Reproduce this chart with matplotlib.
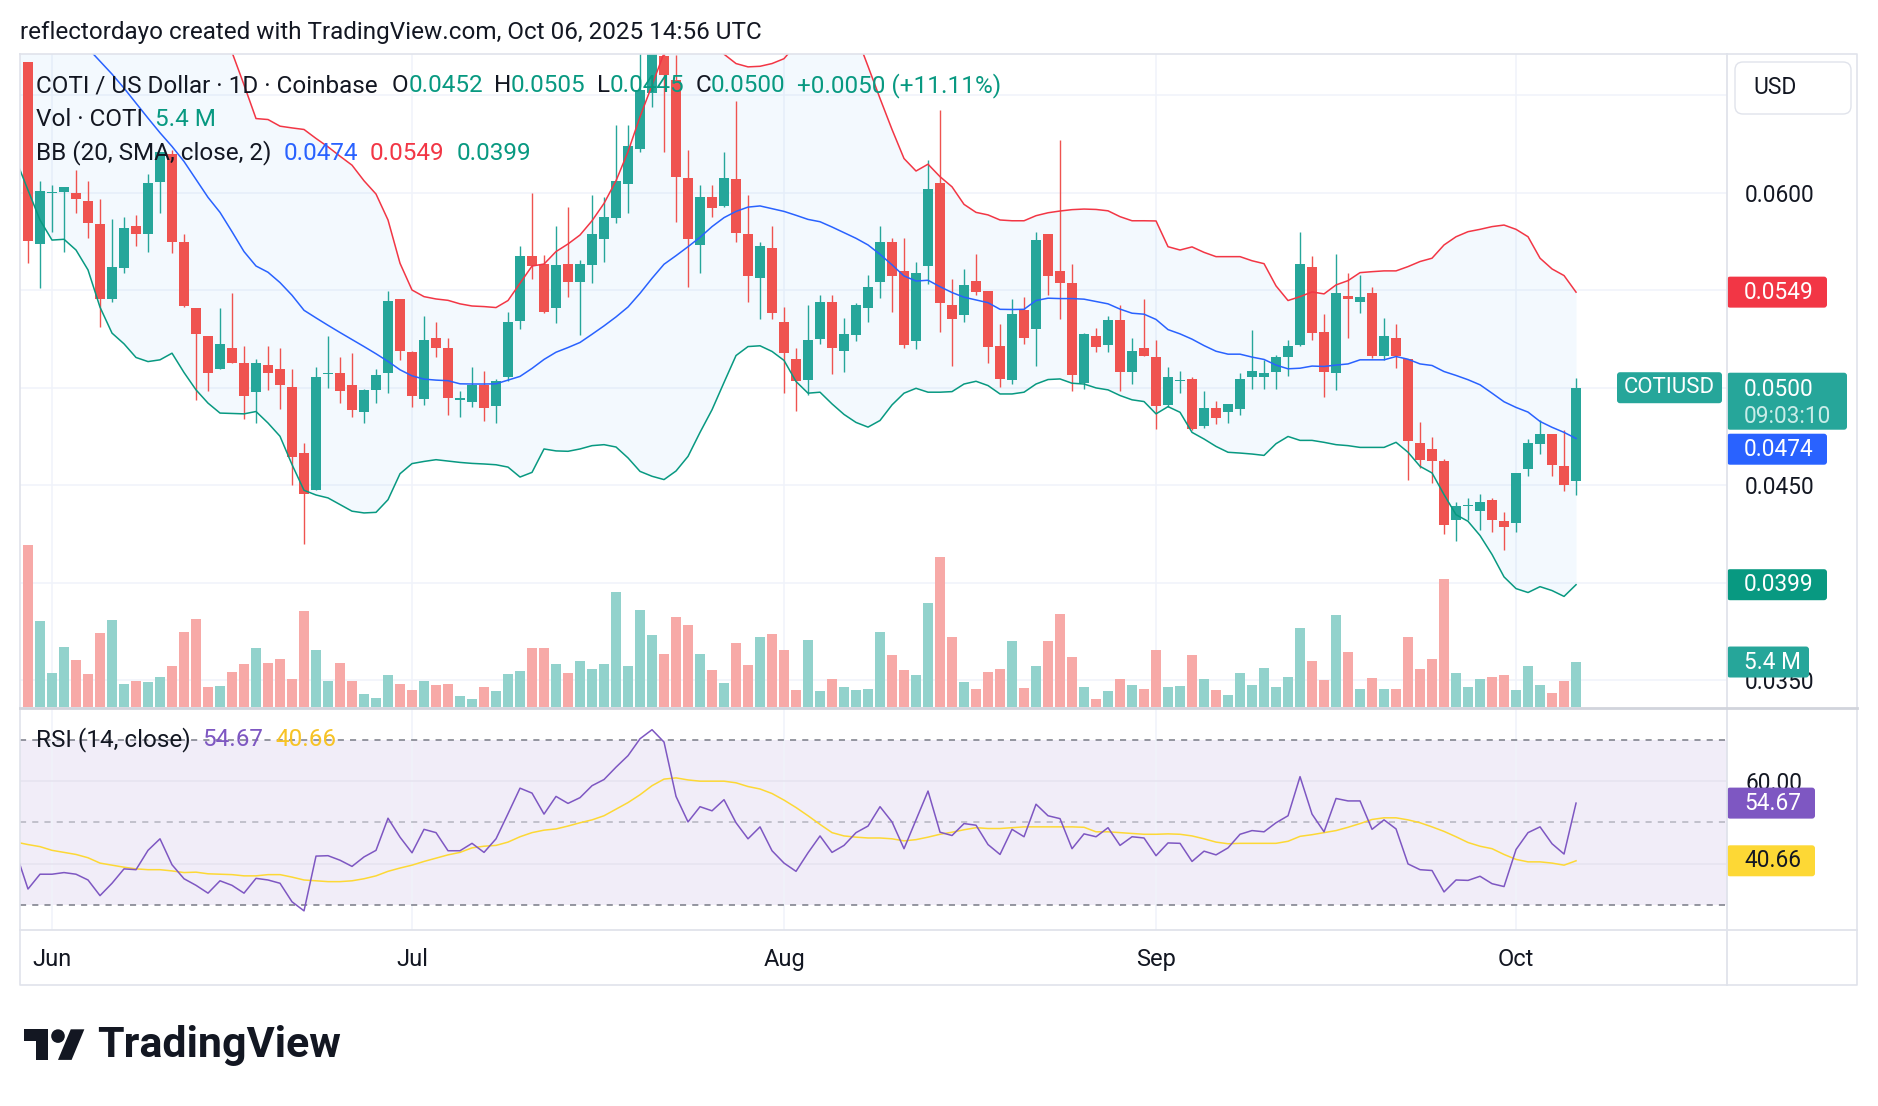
import numpy as np
import matplotlib.pyplot as plt
import pandas as pd
from matplotlib.patches import FancyBboxPatch, Polygon, Circle
from matplotlib.transforms import blended_transform_factory

plt.rcParams['font.family'] = ['Roboto', 'DejaVu Sans']

# daily candles, 2025-05-30 .. 2025-10-06 (COTI / USD, Coinbase)
start_date = '2025-05-30'
open_ = [0.06670, 0.05735, 0.05996, 0.06005, 0.05996, 0.05957, 0.05841, 0.05454, 0.05616, 0.05829,
         0.05786, 0.06056, 0.06196, 0.05745, 0.05409, 0.05266, 0.05095, 0.05204, 0.05126, 0.04976,
         0.05117, 0.05095, 0.05006, 0.04665, 0.04474, 0.05070, 0.05075, 0.05015, 0.04873, 0.04989,
         0.05075, 0.05455, 0.05181, 0.04943, 0.05254, 0.05203, 0.04938, 0.04926, 0.05015, 0.04904,
         0.05053, 0.05344, 0.05675, 0.05633, 0.05411, 0.05634, 0.05544, 0.05629, 0.05762, 0.05872,
         0.06044, 0.06223, 0.06512, 0.06700, 0.06576, 0.06076, 0.05732, 0.05979, 0.05931, 0.06070,
         0.05788, 0.05565, 0.05718, 0.05336, 0.05148, 0.05041, 0.05250, 0.05437, 0.05186, 0.05271,
         0.05411, 0.05544, 0.05745, 0.05599, 0.05242, 0.05626, 0.06048, 0.05425, 0.05373, 0.05547,
         0.05496, 0.05215, 0.05041, 0.05399, 0.05302, 0.05788, 0.05599, 0.05535, 0.05024, 0.05266,
         0.05220, 0.05348, 0.05083, 0.05203, 0.05157, 0.04913, 0.05035, 0.05044, 0.04802, 0.04896,
         0.04873, 0.04892, 0.05053, 0.05053, 0.05083, 0.05157, 0.05220, 0.05617, 0.05285, 0.05075,
         0.05472, 0.05442, 0.05484, 0.05165, 0.05254, 0.05146, 0.04716, 0.04687, 0.04626, 0.04324,
         0.04394, 0.04370, 0.04426, 0.04319, 0.04307, 0.04583, 0.04713, 0.04764, 0.04597, 0.04520]
high_ = [0.06670, 0.06059, 0.06039, 0.06029, 0.06116, 0.06059, 0.05967, 0.05865, 0.05875, 0.05885,
         0.06095, 0.06208, 0.06218, 0.05788, 0.05409, 0.05266, 0.05411, 0.05484, 0.05216, 0.05146,
         0.05216, 0.05206, 0.05097, 0.04716, 0.05105, 0.05266, 0.05157, 0.05177, 0.04993, 0.05095,
         0.05498, 0.05455, 0.05186, 0.05368, 0.05336, 0.05254, 0.04984, 0.05105, 0.05087, 0.05046,
         0.05387, 0.05727, 0.05996, 0.05681, 0.05829, 0.05928, 0.05655, 0.05988, 0.05979, 0.06346,
         0.06346, 0.06800, 0.06950, 0.06900, 0.06705, 0.06218, 0.06039, 0.06039, 0.06210, 0.06469,
         0.05988, 0.05745, 0.05829, 0.05413, 0.05206, 0.05425, 0.05476, 0.05476, 0.05360, 0.05433,
         0.05578, 0.05829, 0.05766, 0.05766, 0.05646, 0.06167, 0.06426, 0.05556, 0.05609, 0.05686,
         0.05496, 0.05327, 0.05455, 0.05464, 0.05797, 0.05788, 0.06269, 0.05633, 0.05283, 0.05305,
         0.05368, 0.05425, 0.05257, 0.05455, 0.05245, 0.05105, 0.05087, 0.05054, 0.04984, 0.04930,
         0.04918, 0.05078, 0.05297, 0.05140, 0.05169, 0.05245, 0.05797, 0.05675, 0.05379, 0.05686,
         0.05587, 0.05578, 0.05515, 0.05360, 0.05327, 0.05146, 0.04824, 0.04747, 0.04634, 0.04414,
         0.04435, 0.04455, 0.04435, 0.04363, 0.04563, 0.04739, 0.04836, 0.04764, 0.04785, 0.05050]
low_ = [0.05638, 0.05510, 0.05800, 0.05698, 0.05897, 0.05769, 0.05310, 0.05437, 0.05590, 0.05728,
        0.05698, 0.05897, 0.05689, 0.05416, 0.04938, 0.04981, 0.05095, 0.05126, 0.04839, 0.04819,
        0.04989, 0.04890, 0.04503, 0.04199, 0.04474, 0.04998, 0.04921, 0.04849, 0.04819, 0.04921,
        0.04972, 0.05140, 0.04901, 0.04909, 0.05160, 0.04858, 0.04848, 0.04899, 0.04831, 0.04819,
        0.05035, 0.05300, 0.05559, 0.05382, 0.05331, 0.05467, 0.05268, 0.05539, 0.05646, 0.05843,
        0.05897, 0.06210, 0.06440, 0.06210, 0.05852, 0.05518, 0.05590, 0.05877, 0.05928, 0.05749,
        0.05438, 0.05351, 0.05351, 0.04972, 0.04879, 0.04964, 0.05225, 0.05071, 0.05080, 0.05237,
        0.05339, 0.05459, 0.05390, 0.05203, 0.05199, 0.05530, 0.05288, 0.05109, 0.05339, 0.05476,
        0.05129, 0.05006, 0.05018, 0.05225, 0.05109, 0.05476, 0.05351, 0.04981, 0.04993, 0.05181,
        0.05181, 0.04984, 0.05018, 0.05165, 0.04788, 0.04899, 0.04972, 0.04785, 0.04796, 0.04815,
        0.04819, 0.04858, 0.04995, 0.04995, 0.04995, 0.05058, 0.05215, 0.05245, 0.04950, 0.04986,
        0.05257, 0.05382, 0.05152, 0.05143, 0.05100, 0.04529, 0.04588, 0.04512, 0.04250, 0.04216,
        0.04320, 0.04269, 0.04261, 0.04167, 0.04261, 0.04546, 0.04660, 0.04546, 0.04469, 0.04450]
close_ = [0.05754, 0.06008, 0.06003, 0.06029, 0.05966, 0.05846, 0.05454, 0.05619, 0.05819, 0.05786,
          0.06049, 0.06208, 0.05745, 0.05419, 0.05274, 0.05075, 0.05223, 0.05126, 0.04955, 0.05126,
          0.05075, 0.05013, 0.04645, 0.04455, 0.05054, 0.05073, 0.04981, 0.04884, 0.04986, 0.05066,
          0.05447, 0.05186, 0.04955, 0.05245, 0.05203, 0.04947, 0.04945, 0.05015, 0.04894, 0.05035,
          0.05336, 0.05675, 0.05626, 0.05387, 0.05629, 0.05544, 0.05634, 0.05788, 0.05873, 0.06059,
          0.06239, 0.06525, 0.06712, 0.06602, 0.06082, 0.05762, 0.05979, 0.05923, 0.06076, 0.05795,
          0.05573, 0.05727, 0.05385, 0.05177, 0.05032, 0.05245, 0.05437, 0.05203, 0.05276, 0.05425,
          0.05518, 0.05745, 0.05575, 0.05220, 0.05587, 0.06018, 0.05433, 0.05353, 0.05527, 0.05493,
          0.05211, 0.05044, 0.05379, 0.05254, 0.05757, 0.05575, 0.05535, 0.05063, 0.05274, 0.05211,
          0.05348, 0.05083, 0.05189, 0.05165, 0.04904, 0.05054, 0.05041, 0.04790, 0.04896, 0.04844,
          0.04918, 0.05044, 0.05087, 0.05075, 0.05160, 0.05215, 0.05634, 0.05283, 0.05083, 0.05484,
          0.05454, 0.05464, 0.05163, 0.05266, 0.05165, 0.04725, 0.04631, 0.04626, 0.04295, 0.04396,
          0.04397, 0.04414, 0.04324, 0.04285, 0.04563, 0.04716, 0.04764, 0.04602, 0.04500, 0.05000]
# volume, millions of COTI
volume = [19.4, 10.3, 4.1, 7.2, 5.6, 4.0, 8.9, 10.4, 2.8, 3.1,
          3.0, 3.6, 4.9, 9.0, 10.6, 2.4, 2.5, 4.2, 5.2, 7.1,
          5.3, 5.8, 3.4, 11.5, 6.8, 3.1, 5.3, 3.1, 1.6, 1.1,
          3.8, 2.8, 2.0, 3.1, 2.6, 2.8, 1.3, 1.0, 2.4, 1.9,
          4.0, 4.3, 7.1, 7.1, 5.2, 4.1, 5.5, 4.6, 5.2, 13.8,
          4.9, 11.6, 8.6, 6.4, 10.8, 9.8, 6.4, 4.4, 2.9, 7.7,
          5.0, 8.4, 8.8, 6.8, 2.0, 8.0, 1.9, 3.4, 2.4, 2.0,
          2.2, 9.0, 6.2, 4.4, 3.8, 12.5, 18.0, 8.4, 3.0, 2.2,
          4.2, 4.6, 7.9, 2.3, 4.9, 7.9, 11.2, 6.0, 2.4, 1.0,
          1.9, 3.4, 2.6, 2.2, 6.8, 2.4, 2.5, 6.2, 3.4, 2.0,
          1.4, 4.1, 2.6, 4.7, 2.4, 3.6, 9.5, 5.5, 3.2, 11.0,
          6.6, 2.2, 3.5, 2.2, 2.2, 8.4, 4.6, 5.8, 15.4, 4.1,
          2.4, 3.4, 3.6, 3.8, 2.0, 4.9, 2.6, 1.7, 3.1, 5.4]

# indicator series start one day earlier (2025-05-29) so the lines enter from the left edge
bb_upper = [0.0800, 0.0798, 0.0795, 0.0792, 0.0789, 0.0785, 0.0781, 0.0776, 0.0771, 0.0765,
            0.0759, 0.0752, 0.0745, 0.0736, 0.0728, 0.0718, 0.0706, 0.0690, 0.06720, 0.06553,
            0.06380, 0.06375, 0.06341, 0.06332, 0.06324, 0.06278, 0.06235, 0.06187, 0.06141, 0.06061,
            0.05993, 0.05860, 0.05638, 0.05501, 0.05467, 0.05455, 0.05448, 0.05430, 0.05419, 0.05416,
            0.05411, 0.05447, 0.05536, 0.05624, 0.05634, 0.05698, 0.05737, 0.05783, 0.05856, 0.05945,
            0.06061, 0.06210, 0.06389, 0.06551, 0.06716, 0.0690, 0.0698, 0.0695, 0.0683, 0.06710,
            0.06662, 0.06645, 0.06648, 0.06662, 0.06687, 0.0676, 0.0686, 0.0695, 0.0700, 0.0695,
            0.0681, 0.06648, 0.06483, 0.06324, 0.06175, 0.06111, 0.06146, 0.06082, 0.06030, 0.05940,
            0.05899, 0.05886, 0.05860, 0.05856, 0.05856, 0.05882, 0.05897, 0.05906, 0.05913, 0.05916,
            0.05914, 0.05907, 0.05877, 0.05856, 0.05856, 0.05855, 0.05723, 0.05706, 0.05722, 0.05694,
            0.05672, 0.05672, 0.05672, 0.05651, 0.05636, 0.05522, 0.05447, 0.05467, 0.05491, 0.05481,
            0.05527, 0.05549, 0.05590, 0.05595, 0.05599, 0.05599, 0.05621, 0.05647, 0.05664, 0.05732,
            0.05774, 0.05800, 0.05812, 0.05826, 0.05834, 0.05812, 0.05774, 0.05664, 0.05609, 0.05575,
            0.05490]
bb_basis = [0.0712, 0.0706, 0.0700, 0.0694, 0.0687, 0.0681, 0.0674, 0.06674, 0.06608, 0.06536,
            0.06459, 0.06382, 0.06307, 0.06237, 0.06160, 0.06068, 0.05976, 0.05899, 0.05800, 0.05698,
            0.05624, 0.05592, 0.05539, 0.05474, 0.05397, 0.05358, 0.05320, 0.05283, 0.05247, 0.05211,
            0.05174, 0.05135, 0.05092, 0.05061, 0.05044, 0.05039, 0.05036, 0.05020, 0.05019, 0.05019,
            0.05020, 0.05039, 0.05058, 0.05099, 0.05145, 0.05182, 0.05206, 0.05232, 0.05274, 0.05317,
            0.05363, 0.05414, 0.05484, 0.05561, 0.05633, 0.05677, 0.05723, 0.05771, 0.05826, 0.05872,
            0.05904, 0.05926, 0.05932, 0.05918, 0.05904, 0.05884, 0.05863, 0.05851, 0.05824, 0.05795,
            0.05766, 0.05732, 0.05684, 0.05630, 0.05573, 0.05547, 0.05551, 0.05518, 0.05488, 0.05464,
            0.05450, 0.05436, 0.05402, 0.05401, 0.05402, 0.05447, 0.05459, 0.05457, 0.05457, 0.05454,
            0.05442, 0.05430, 0.05403, 0.05382, 0.05377, 0.05350, 0.05298, 0.05276, 0.05249, 0.05216,
            0.05187, 0.05172, 0.05172, 0.05157, 0.05145, 0.05116, 0.05097, 0.05100, 0.05111, 0.05109,
            0.05116, 0.05122, 0.05143, 0.05143, 0.05143, 0.05160, 0.05146, 0.05122, 0.05114, 0.05083,
            0.05063, 0.05041, 0.05015, 0.04972, 0.04928, 0.04899, 0.04875, 0.04827, 0.04797, 0.04771,
            0.04740]
bb_lower = [0.06168, 0.06013, 0.05860, 0.05757, 0.05761, 0.05706, 0.05604, 0.05413, 0.05280, 0.05225,
            0.05155, 0.05134, 0.05143, 0.05177, 0.05078, 0.04989, 0.04921, 0.04870, 0.04868, 0.04866,
            0.04878, 0.04819, 0.04751, 0.04606, 0.04474, 0.04450, 0.04435, 0.04401, 0.04367, 0.04358,
            0.04361, 0.04426, 0.04559, 0.04611, 0.04622, 0.04631, 0.04624, 0.04617, 0.04612, 0.04609,
            0.04605, 0.04593, 0.04542, 0.04566, 0.04686, 0.04676, 0.04674, 0.04686, 0.04703, 0.04708,
            0.04696, 0.04640, 0.04571, 0.04546, 0.04529, 0.04573, 0.04648, 0.04771, 0.04887, 0.05027,
            0.05165, 0.05211, 0.05215, 0.05186, 0.05140, 0.05032, 0.04972, 0.04977, 0.04917, 0.04863,
            0.04822, 0.04798, 0.04832, 0.04912, 0.04972, 0.04997, 0.04977, 0.04977, 0.04980, 0.05019,
            0.05033, 0.05011, 0.04968, 0.04968, 0.04977, 0.05019, 0.05042, 0.05045, 0.05023, 0.05019,
            0.04999, 0.04989, 0.04960, 0.04938, 0.04929, 0.04866, 0.04903, 0.04874, 0.04771, 0.04737,
            0.04699, 0.04669, 0.04665, 0.04660, 0.04653, 0.04713, 0.04750, 0.04730, 0.04730, 0.04720,
            0.04708, 0.04703, 0.04694, 0.04694, 0.04694, 0.04720, 0.04669, 0.04597, 0.04563, 0.04452,
            0.04349, 0.04315, 0.04242, 0.04145, 0.0403, 0.0397, 0.0395, 0.0398, 0.0396, 0.0393,
            0.0399]
rsi = [42.6, 33.8, 37.4, 37.4, 37.8, 37.4, 36.0, 32.2, 35.2, 38.7,
       38.5, 43.2, 46.0, 39.7, 36.3, 34.7, 32.8, 35.8, 34.7, 32.8,
       36.4, 36.0, 35.2, 30.7, 28.5, 41.8, 41.9, 40.8, 39.3, 41.6,
       43.2, 51.0, 46.4, 42.6, 48.3, 47.5, 43.1, 43.1, 44.9, 42.7,
       46.0, 52.1, 58.3, 57.1, 52.0, 56.3, 54.6, 56.0, 58.9, 60.4,
       63.4, 66.2, 70.3, 72.5, 69.5, 56.3, 50.1, 53.8, 52.8, 55.5,
       49.9, 46.0, 48.9, 43.1, 40.1, 38.1, 42.6, 46.7, 42.7, 44.4,
       47.5, 49.1, 53.8, 50.1, 43.6, 50.6, 57.6, 47.6, 46.8, 49.7,
       49.3, 44.6, 42.2, 48.3, 46.5, 54.4, 51.6, 50.9, 43.6, 47.2,
       46.5, 48.7, 44.4, 46.5, 46.2, 41.9, 45.0, 44.9, 40.5, 43.0,
       42.1, 43.8, 47.1, 48.0, 47.7, 49.9, 51.6, 61.1, 52.0, 47.7,
       55.8, 55.2, 55.2, 48.3, 50.6, 48.4, 39.9, 38.5, 38.3, 33.1,
       36.0, 35.9, 36.9, 35.1, 34.4, 43.4, 47.5, 48.9, 44.8, 42.3,
       54.67]
rsi_ma = [45.2, 44.6, 44.1, 43.2, 42.7, 42.2, 41.4, 40.1, 39.6, 39.1,
          38.7, 38.5, 38.5, 38.2, 37.8, 37.9, 37.5, 37.4, 37.3, 37.0,
          37.0, 37.3, 37.3, 36.7, 36.0, 35.8, 35.6, 35.6, 35.8, 36.3,
          37.0, 38.1, 38.9, 39.6, 40.5, 41.3, 42.1, 42.7, 43.8, 44.2,
          44.4, 45.2, 46.5, 47.5, 48.1, 48.4, 49.1, 49.9, 50.6, 51.6,
          53.2, 54.8, 56.7, 58.9, 60.5, 60.8, 60.3, 60.0, 60.0, 60.0,
          59.6, 58.7, 58.1, 57.0, 55.4, 53.6, 51.6, 49.5, 47.5, 46.7,
          46.4, 46.2, 46.2, 46.0, 45.5, 45.8, 46.4, 47.1, 47.6, 48.2,
          48.7, 48.5, 48.5, 48.7, 48.9, 48.9, 48.9, 48.9, 48.9, 48.8,
          47.7, 47.7, 47.5, 47.3, 47.1, 47.1, 47.2, 47.1, 46.7, 46.0,
          45.2, 44.8, 44.9, 44.9, 44.9, 44.9, 45.4, 46.6, 47.0, 47.5,
          48.0, 48.8, 49.7, 50.7, 51.1, 51.1, 50.6, 49.9, 48.9, 47.8,
          46.5, 45.1, 44.2, 43.6, 42.2, 41.0, 40.4, 40.4, 40.1, 39.6,
          40.66]
# grid levels; only the labels not hidden behind a price badge are written
price_ticks = [0.0650, 0.0600, 0.0550, 0.0500, 0.0450, 0.0400, 0.0350]
price_labels = ['', '0.0600', '', '', '0.0450', '', '0.0350']
rsi_ticks = [60, 40]
rsi_labels = ['60.00', '']

UP, DOWN = '#26A69A', '#EF5350'
DARK = '#131722'
GRID = '#F0F3FA'
BORDER = '#E0E3EB'
FS = 17.5   # legend / header text
AFS = 16.3  # scale text

W, H = 1878, 1106
fig = plt.figure(figsize=(W / 100, H / 100), dpi=100)


def rect(l, t, r, b):
    return [l / W, 1 - b / H, (r - l) / W, (b - t) / H]


o = np.array(open_)
h = np.array(high_)
l = np.array(low_)
c = np.array(close_)
v = np.array(volume)
k = np.arange(len(c))
kx = np.arange(-1, len(c))
dates = pd.date_range(start_date, periods=len(c), freq='D')
month_pos = [i for i, d in enumerate(dates) if d.day == 1]
month_lab = [dates[i].strftime('%b') for i in month_pos]

XL = (-0.667, 141.58)
PY = (0.03363, 0.06711)
RY = (23.85, 77.53)
VMAX = 78.4

# ---- price pane
ax = fig.add_axes(rect(20, 54, 1727, 707))
ax.set_xlim(*XL)
ax.set_ylim(*PY)
up = c >= o
col = np.where(up, UP, DOWN)
vcol = np.where(up, '#92D2CC', '#F7A9A7')
vt = blended_transform_factory(ax.transData, ax.transAxes)
ax.bar(k, v / VMAX, width=0.8, color=vcol, transform=vt, zorder=1, linewidth=0)
ax.fill_between(kx, bb_upper, bb_lower, color='#2196F3', alpha=0.05, lw=0, zorder=2)
ax.vlines(k, l, h, colors=col, lw=1.0, zorder=3)
bh = np.maximum(np.abs(c - o), 0.00007)
mid = (o + c) / 2
ax.bar(k, bh, bottom=mid - bh / 2, width=0.83, color=col, zorder=4, linewidth=0)
ax.plot(kx, bb_upper, color='#F23645', lw=1.1, zorder=5)
ax.plot(kx, bb_basis, color='#2962FF', lw=1.1, zorder=5)
ax.plot(kx, bb_lower, color='#089981', lw=1.1, zorder=5)
ax.set_yticks(price_ticks)
ax.set_yticklabels(price_labels)
ax.set_xticks(month_pos)
ax.set_xticklabels([])
ax.yaxis.tick_right()
ax.tick_params(length=0, labelsize=AFS, labelcolor=DARK, pad=13)
ax.grid(True, color=GRID, lw=1.1)
ax.set_axisbelow(True)
for s in ax.spines.values():
    s.set_visible(False)

# ---- RSI pane
ar = fig.add_axes(rect(20, 709, 1727, 930))
ar.set_xlim(*XL)
ar.set_ylim(*RY)
ar.axhspan(30, 70, color='#7E57C2', alpha=0.1, lw=0, zorder=0.3)
for t in rsi_ticks:
    ar.axhline(t, color='#E6E3EF', lw=1.1, zorder=0.6)
ar.axhline(70, color='#787B86', lw=1.1, ls=(0, (4, 4)), zorder=1)
ar.axhline(30, color='#787B86', lw=1.1, ls=(0, (4, 4)), zorder=1)
ar.axhline(50, color='#787B86', lw=1.1, ls=(0, (4, 4)), alpha=0.5, zorder=1)
ar.plot(kx, rsi_ma, color='#FDD835', lw=1.1, zorder=3)
ar.plot(kx, rsi, color='#7E57C2', lw=1.1, zorder=4)
ar.set_yticks(rsi_ticks)
ar.set_yticklabels(rsi_labels)
ar.yaxis.tick_right()
ar.set_xticks(month_pos)
ar.set_xticklabels(month_lab)
ar.tick_params(length=0, labelsize=AFS, labelcolor=DARK)
ar.tick_params(axis='y', pad=13)
ar.tick_params(axis='x', labelsize=17, pad=13)
ar.grid(True, axis='x', color=GRID, lw=1.1)
ar.set_axisbelow(True)
for s in ar.spines.values():
    s.set_visible(False)

# ---- overlay: frame, legends, price badges, logo
ov = fig.add_axes([0, 0, 1, 1], zorder=5)
ov.set_xlim(0, W)
ov.set_ylim(H, 0)
ov.axis('off')
R = fig.canvas.get_renderer()

ov.plot([20, 1857, 1857, 20, 20], [54, 54, 985, 985, 54], color=BORDER, lw=1.2)
ov.plot([1727, 1727], [54, 985], color=BORDER, lw=1.3)
ov.plot([20, 1857], [708, 708], color='#D1D4DC', lw=2.0)
ov.plot([20, 1857], [930, 930], color=BORDER, lw=1.3)


def py(a, val):
    return H - a.transData.transform((0, val))[1]


def seq(x, y, parts, size=FS):
    for s, color, gap in parts:
        t = ov.text(x, y, s, color=color, fontsize=size, va='center', ha='left')
        x += t.get_window_extent(renderer=R).width + gap


def badge(yc, text, fc, tc='white', x0=1727, x1=1827, hh=31, size=AFS):
    ov.add_patch(FancyBboxPatch((x0, yc - hh / 2), x1 - x0, hh,
                                boxstyle='round,pad=0,rounding_size=3', fc=fc, ec='none'))
    ov.text(x0 + 17, yc, text, color=tc, fontsize=size, va='center', ha='left')


ov.text(20, 33, 'reflectordayo created with TradingView.com, Oct 06, 2025 14:56 UTC',
        fontsize=FS, color=DARK, va='center', ha='left')

chg = c[-1] - c[-2]
TEAL = '#089981'
seq(36, 86, [('COTI / US Dollar · 1D · Coinbase', DARK, 14),
             ('O', DARK, 0), (f'{o[-1]:.4f}', TEAL, 11),
             ('H', DARK, 0), (f'{h[-1]:.4f}', TEAL, 11),
             ('L', DARK, 0), (f'{l[-1]:.4f}', TEAL, 11),
             ('C', DARK, 0), (f'{c[-1]:.4f}', TEAL, 11),
             (f'{chg:+.4f} ({chg / c[-2] * 100:+.2f}%)', TEAL, 0)])
seq(36, 119, [('Vol · COTI', DARK, 12), (f'{v[-1]:.1f} M', TEAL, 0)])
seq(36, 153, [('BB (20, SMA, close, 2)', DARK, 12),
              (f'{bb_basis[-1]:.4f}', '#2962FF', 12),
              (f'{bb_upper[-1]:.4f}', '#F23645', 12),
              (f'{bb_lower[-1]:.4f}', TEAL, 0)])
seq(36, 740, [('RSI (14, close)', DARK, 12),
              (f'{rsi[-1]:.2f}', '#7E57C2', 12),
              (f'{rsi_ma[-1]:.2f}', '#F7C325', 0)])

# USD button
ov.add_patch(FancyBboxPatch((1735, 62), 116, 52, boxstyle='round,pad=0,rounding_size=8',
                            fc='white', ec=BORDER, lw=1.0))
ov.text(1753, 88, 'USD', fontsize=16.5, color=DARK, va='center', ha='left')

badge(py(ax, bb_upper[-1]), f'{bb_upper[-1]:.4f}', '#F23645')
yl = py(ax, c[-1])
ov.add_patch(FancyBboxPatch((1727, yl - 15), 120, 57, boxstyle='round,pad=0,rounding_size=3',
                            fc=UP, ec='none'))
ov.text(1744, yl + 2, f'{c[-1]:.4f}', color='white', fontsize=AFS, va='center', ha='left')
ov.text(1744, yl + 29, '09:03:10', color='#C9ECE8', fontsize=AFS, va='center', ha='left')
ov.add_patch(FancyBboxPatch((1617, yl - 15.5), 105, 31, boxstyle='round,pad=0,rounding_size=3',
                            fc=UP, ec='none'))
ov.text(1669, yl, 'COTIUSD', color='white', fontsize=16, va='center', ha='center')
yb = max(py(ax, bb_basis[-1]), yl + 42 + 4 + 15.5)
badge(yb, f'{bb_basis[-1]:.4f}', '#2962FF')
badge(py(ax, bb_lower[-1]), f'{bb_lower[-1]:.4f}', '#089981')
badge(707 - 653 * v[-1] / VMAX, f'{v[-1]:.1f} M', UP, x1=1809)
badge(py(ar, rsi[-1]), f'{rsi[-1]:.2f}', '#7E57C2', x1=1815)
badge(py(ar, rsi_ma[-1]), f'{rsi_ma[-1]:.2f}', '#FDD835', tc=DARK, x1=1815)

# TradingView logo
s = 1.7
lx, ly = 24, 1022.5
ov.add_patch(Polygon([(lx + s * a, ly + s * b) for a, b in
                      [(14, 22), (7, 22), (7, 11), (0, 11), (0, 4), (14, 4)]], fc=DARK, ec='none'))
ov.add_patch(Polygon([(lx + s * a, ly + s * b) for a, b in
                      [(28, 22), (20, 22), (27.5, 4), (35.5, 4)]], fc=DARK, ec='none'))
ov.add_patch(Circle((lx + s * 20, ly + s * 8), s * 4, fc=DARK, ec='none'))
ov.text(97, 1046, 'TradingView', fontsize=31, fontweight='bold', color=DARK, va='center', ha='left')

fig.savefig('out.png', dpi=100, facecolor='white')
